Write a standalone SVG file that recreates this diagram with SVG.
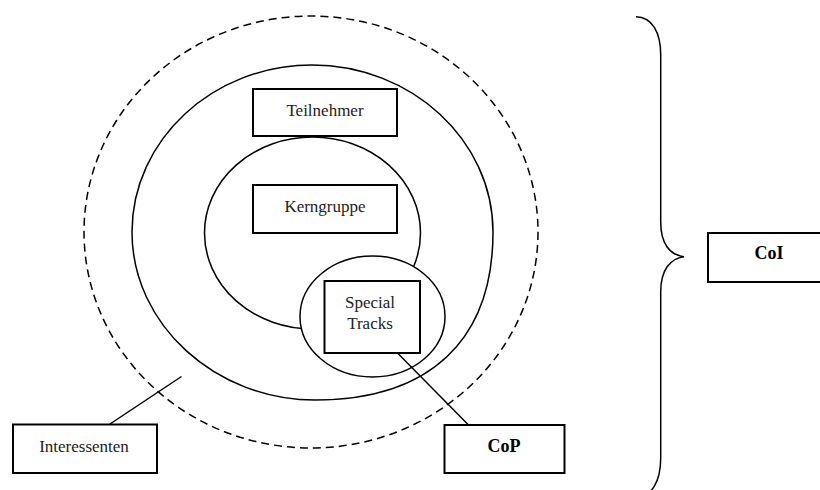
<svg xmlns="http://www.w3.org/2000/svg" width="820" height="490" viewBox="0 0 820 490">
<style>
.bg{fill:#fff}
.ring{fill:none;stroke:#000;stroke-width:1.5}
.dash{fill:none;stroke:#000;stroke-width:1.5;stroke-dasharray:8 5}
.box{fill:#fff;stroke:#000;stroke-width:2}
.lbl{font-family:"Liberation Serif","Times New Roman",serif;font-size:17px;fill:#222;text-anchor:middle}
.bold{font-weight:bold;font-size:18px;fill:#000}
.con{fill:none;stroke:#000;stroke-width:1.5}
</style>
<rect class="bg" x="0" y="0" width="820" height="490"/>
<g id="interessenten-ring"><ellipse class="dash" cx="311" cy="232" rx="227" ry="216"/></g>
<g id="teilnehmer-ring"><path class="ring" d="M132,232 C132,140 213,65 312,65 C411,65 493,140 493,232 C493,340 430,400 315,400 C216,400 132,325 132,232 Z"/></g>
<g id="kerngruppe-ring"><ellipse class="ring" cx="312.5" cy="233" rx="108" ry="96"/></g>
<g id="special-ring"><ellipse class="ring" cx="372.5" cy="316.5" rx="72.5" ry="60.5" fill="#fff" style="fill:#fff"/></g>
<g id="teilnehmer"><rect class="box" x="253" y="89" width="144" height="47"/><text class="lbl" x="325" y="116">Teilnehmer</text></g>
<g id="kerngruppe"><rect class="box" x="253" y="185" width="144" height="48"/><text class="lbl" x="325" y="212">Kerngruppe</text></g>
<g id="special-tracks"><rect class="box" x="324.5" y="281" width="95.5" height="72"/><text class="lbl" x="370" y="308">Special</text><text class="lbl" x="370" y="329">Tracks</text></g>
<g id="interessenten"><rect class="box" x="13" y="424.5" width="144" height="48.5"/><text class="lbl" x="84" y="452">Interessenten</text></g>
<g id="cop"><rect class="box" x="444.5" y="425" width="120" height="48"/><text class="lbl bold" x="504" y="452">CoP</text></g>
<g id="coi"><rect class="box" x="708" y="233" width="122" height="49"/><text class="lbl bold" x="769" y="259">CoI</text></g>
<g id="connectors">
<line class="con" x1="110" y1="424" x2="181.5" y2="376.5"/>
<line class="con" x1="397.5" y1="353" x2="468.5" y2="425"/>
<path class="con" d="M636,16.7 C652,17 660.7,32 660.7,55 L660.7,222 C660.7,244 670,255 684,256.7 C670,258.5 660.7,270 660.7,292 L660.7,458 C660.7,481 652,497 636,497.3"/>
</g>
</svg>
